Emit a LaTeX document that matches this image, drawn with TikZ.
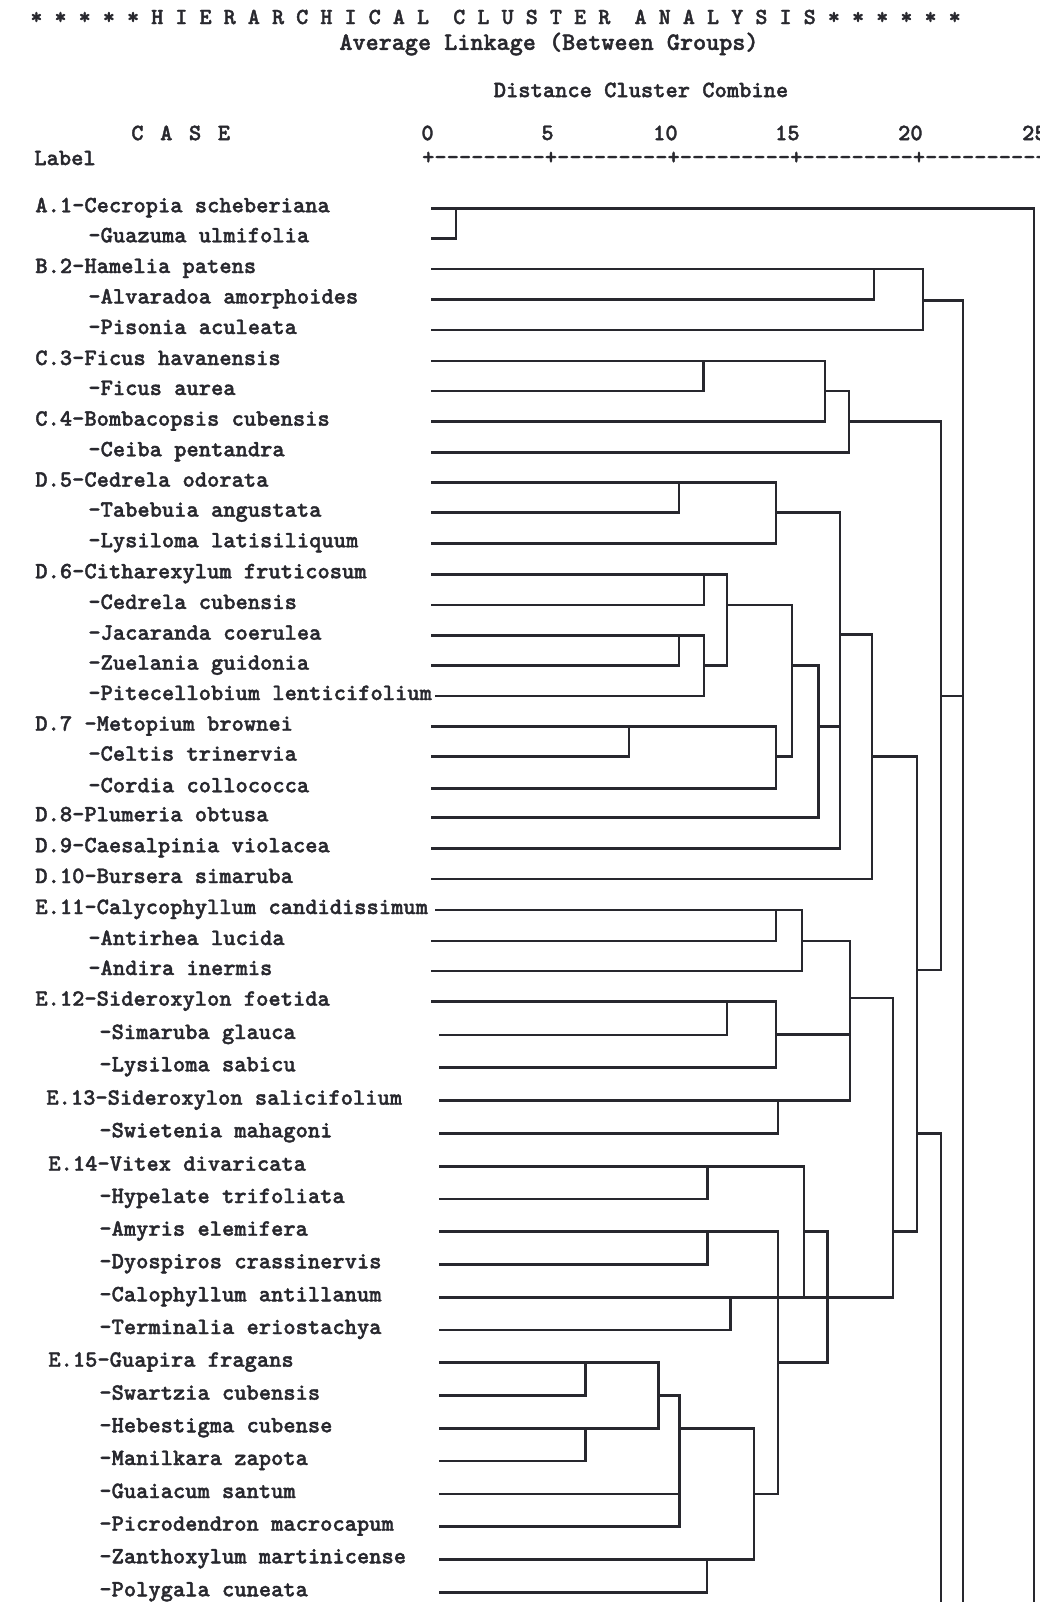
\documentclass[tikz,border=0pt]{standalone}
\usepackage{fontspec}
\usepackage{tikz}
\newfontfamily\spssmono{lmmonolt10-bold.otf}[FakeBold=1.6]
\definecolor{inkgray}{RGB}{40,40,46}
\newcommand{\spssfont}{\fontsize{13.3}{16}\selectfont\spssmono}
\newcommand{\axisseg}{+\kern0pt-\kern0pt-\kern0pt-\kern0pt-\kern0pt-\kern0pt-\kern0pt-\kern0pt-\kern0pt-\kern0pt}
\newcommand{\casegap}{\hspace{0.086cm}\ }
\tikzset{
  headtext/.style={inner sep=0pt, font=\spssfont, text=inkgray},
  caselabel/.style={anchor=base west, inner sep=0pt, font=\spssfont, text=inkgray},
  link/.style={draw=inkgray, line width=1.4pt, line cap=rect},
}

\begin{document}
\begin{tikzpicture}[x=0.02cm, y=-0.02cm]
  \useasboundingbox (0,0) rectangle (1040,1602);
  \clip (0,0) rectangle (1040,1602);

  % Header
  \node[headtext, anchor=west, font=\fontsize{13.1}{16}\selectfont\spssmono] (title) at (30,17)
    {* * * * * H I E R A R C H I C A L\ \ C L U S T E R\ \ A N A L Y S I S * * * * * *};
  \node[headtext, font=\fontsize{14.2}{16}\selectfont\spssmono] (method) at (549,44)
    {Average Linkage (Between Groups)};
  \node[headtext] (dist) at (641,90) {Distance Cluster Combine};
  \node[headtext, anchor=west] (case) at (131,133) {C\casegap A\casegap S\casegap E};
  \node[headtext, anchor=west] (lab) at (34,158) {Label};

  % Scale
  \foreach \v/\tx [count=\i from 0] in {0/434,5/554,10/678,15/800,20/923,25/1047}
    \node[headtext, anchor=east] (tick\i) at (\tx,133) {\v};
  \node[headtext, anchor=west] (axis) at (421.8,158)
    {\axisseg\axisseg\axisseg\axisseg\axisseg+};

  % Cases and their lines
  \foreach \lx/\y/\sx/\ex/\t [count=\i] in {
    35/208.3/432/1034/A.1-Cecropia scheberiana,
    88/238.3/432/456/-Guazuma ulmifolia,
    35/269/432/923/B.2-Hamelia patens,
    88/299.5/432/874/-Alvaradoa amorphoides,
    88/330/432/923/-Pisonia aculeata,
    35/361/432/825/C.3-Ficus havanensis,
    88/391/432/703.5/-Ficus aurea,
    35/421.7/432/825/C.4-Bombacopsis cubensis,
    88/452.3/432/849/-Ceiba pentandra,
    35/482.7/432/776/D.5-Cedrela odorata,
    88/512.7/432/679/-Tabebuia angustata,
    88/543.3/432/776/-Lysiloma latisiliquum,
    35/574.3/432/727/D.6-Citharexylum fruticosum,
    88/605/432/704/-Cedrela cubensis,
    88/635.7/432/704/-Jacaranda coerulea,
    88/665.7/432/679/-Zuelania guidonia,
    88/696/436/704/-Pitecellobium lenticifolium,
    35/726.7/432/776/D.7 -Metopium brownei,
    88/756.7/432/629/-Celtis trinervia,
    88/788.3/432/776/-Cordia collococca,
    35/817.3/432/818.5/D.8-Plumeria obtusa,
    35/848.3/432/840/D.9-Caesalpinia violacea,
    35/879/432/872/D.10-Bursera simaruba,
    35/910/436/802/E.11-Calycophyllum candidissimum,
    88/941/432/776/-Antirhea lucida,
    88/971/432/802/-Andira inermis,
    35/1001.7/432/776/E.12-Sideroxylon foetida,
    99/1035/440/727/-Simaruba glauca,
    99/1067.3/440/776/-Lysiloma sabicu,
    46/1100.7/440/850/E.13-Sideroxylon salicifolium,
    99/1133.3/440/778/-Swietenia mahagoni,
    48/1166.7/440/804/E.14-Vitex divaricata,
    99/1199/440/707.6/-Hypelate trifoliata,
    99/1231.7/440/778/-Amyris elemifera,
    99/1264.3/440/707.6/-Dyospiros crassinervis,
    99/1297.3/440/893/-Calophyllum antillanum,
    99/1330/440/730.5/-Terminalia eriostachya,
    48/1362.7/440/658.5/E.15-Guapira fragans,
    99/1395.7/440/585.3/-Swartzia cubensis,
    99/1428.3/440/658.5/-Hebestigma cubense,
    99/1461/440/585.3/-Manilkara zapota,
    99/1494/440/679.3/-Guaiacum santum,
    99/1526.7/440/679.3/-Picrodendron macrocapum,
    99/1559.3/440/754/-Zanthoxylum martinicense,
    99/1592.3/440/707/-Polygala cuneata} {
    \node[caselabel] (case\i) at (\lx,\y+4) {\t};
    \draw[link] (\sx,\y) -- (\ex,\y);
  }

  % Cluster A
  \draw[link] (456,208.3) -- (456,238.3);
  \draw[link] (1034,208.3) -- (1034,1602);
  % Cluster B
  \draw[link] (874,269) -- (874,299.5);
  \draw[link] (923,269) -- (923,330);
  \draw[link] (923,300.7) -- (963,300.7) -- (963,1602);
  % Cluster C
  \draw[link] (703.5,361) -- (703.5,391);
  \draw[link] (825,361) -- (825,421.7);
  \draw[link] (825,391) -- (849,391) -- (849,452.3);
  \draw[link] (849,421.7) -- (941,421.7) -- (941,970) -- (917,970);
  \draw[link] (941,696) -- (963,696);
  % Cluster D
  \draw[link] (679,482.7) -- (679,512.7);
  \draw[link] (776,482.7) -- (776,543.3);
  \draw[link] (776,512.7) -- (840,512.7) -- (840,848.3);
  \draw[link] (704,574.3) -- (704,605);
  \draw[link] (727,574.3) -- (727,665.7);
  \draw[link] (679,635.7) -- (679,665.7);
  \draw[link] (704,635.7) -- (704,696);
  \draw[link] (704,665.7) -- (727,665.7);
  \draw[link] (727,605) -- (792,605) -- (792,756.7);
  \draw[link] (629,726.7) -- (629,756.7);
  \draw[link] (776,726.7) -- (776,788.3);
  \draw[link] (776,756.7) -- (792,756.7);
  \draw[link] (792,665.7) -- (818.5,665.7) -- (818.5,817.3);
  \draw[link] (818.5,726.7) -- (840,726.7);
  \draw[link] (840,634.5) -- (872,634.5) -- (872,879);
  \draw[link] (872,756.7) -- (917,756.7) -- (917,1231.7) -- (893,1231.7);
  % Cluster E
  \draw[link] (776,910) -- (776,941);
  \draw[link] (802,910) -- (802,971);
  \draw[link] (802,941) -- (850,941) -- (850,1100.7);
  \draw[link] (850,998) -- (893,998) -- (893,1297.3);
  \draw[link] (727,1001.7) -- (727,1035);
  \draw[link] (776,1001.7) -- (776,1067.3);
  \draw[link] (776,1034.3) -- (850,1034.3);
  \draw[link] (778,1100.7) -- (778,1133.3);
  \draw[link] (917,1133.3) -- (941,1133.3) -- (941,1602);
  \draw[link] (707.6,1166.7) -- (707.6,1199);
  \draw[link] (804,1166.7) -- (804,1297.3);
  \draw[link] (707.6,1231.7) -- (707.6,1264.3);
  \draw[link] (778,1231.7) -- (778,1494);
  \draw[link] (804,1231.7) -- (827.4,1231.7) -- (827.4,1362.7) -- (778,1362.7);
  \draw[link] (730.5,1297.3) -- (730.5,1330);
  \draw[link] (585.3,1362.7) -- (585.3,1395.7);
  \draw[link] (658.5,1362.7) -- (658.5,1428.3);
  \draw[link] (585.3,1428.3) -- (585.3,1461);
  \draw[link] (658.5,1395.7) -- (679.3,1395.7) -- (679.3,1526.7);
  \draw[link] (679.3,1428.3) -- (754,1428.3) -- (754,1559.3);
  \draw[link] (754,1494) -- (778,1494);
  \draw[link] (707,1559.3) -- (707,1592.3);
\end{tikzpicture}
\end{document}
